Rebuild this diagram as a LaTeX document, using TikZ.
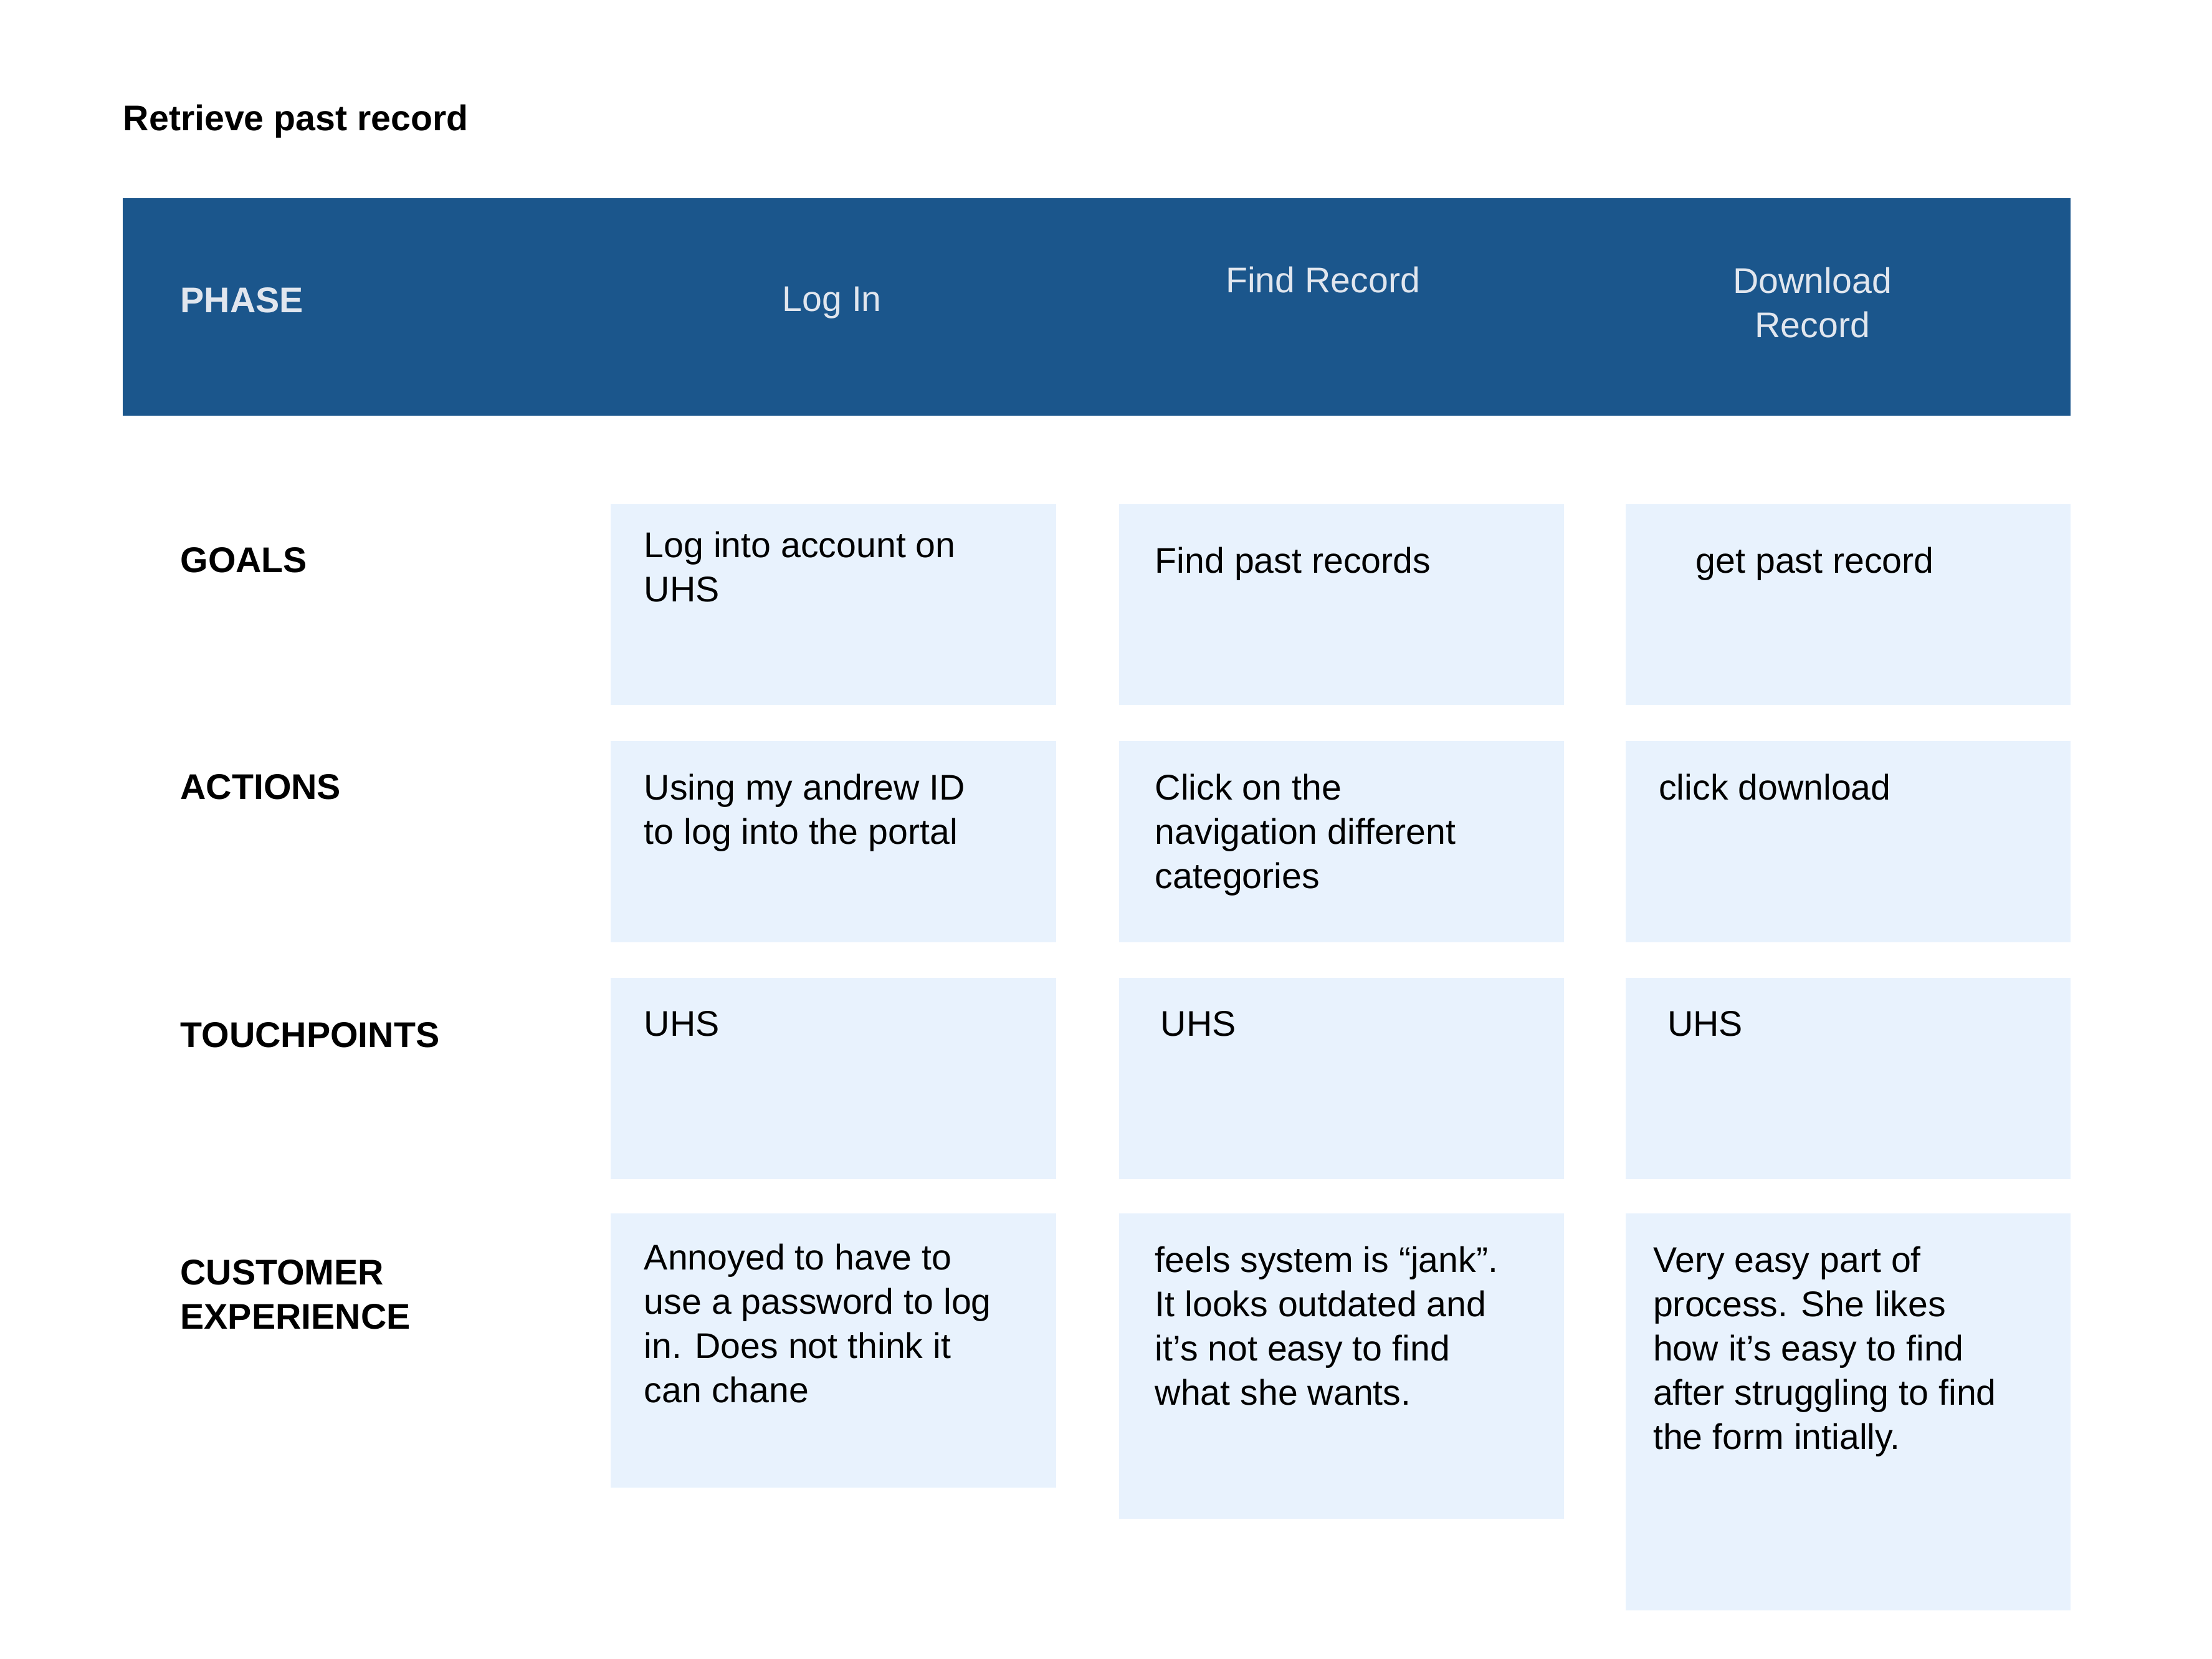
\documentclass[tikz,border=0pt]{standalone}
\usepackage{fontspec}
\setmainfont{Liberation Sans}
\definecolor{hdr}{HTML}{1B568C}
\definecolor{cell}{HTML}{E8F2FD}
\definecolor{htxt}{HTML}{E1E6EE}
\begin{document}
\begin{tikzpicture}[x=0.5pt,y=-0.5pt,
  cellbox/.style={fill=cell,draw=none},
  ctext/.style={anchor=north west,inner sep=0,align=left,font=\fontsize{12.5}{15.5}\selectfont},
  rlabel/.style={anchor=north west,inner sep=0,align=left,font=\fontsize{12.5}{15.5}\selectfont\bfseries},
  htext/.style={inner sep=0,align=center,text=htxt,font=\fontsize{12.5}{15.5}\selectfont}]
\useasboundingbox (0,0) rectangle (1550,1162);
\node[rlabel] (title) at (86,73) {Retrieve past record};
\fill[hdr] (86,139) rectangle (1451,291);
\node[rlabel,text=htxt] (phase) at (126,201) {PHASE};
\node[htext] (p1) at (583,212) {Log In};
\node[htext] (p2) at (927,196) {Find Record};
\node[htext] (p3) at (1270,212) {Download\\Record};
% cells
\foreach \xa/\xb in {428/740,784/1096,1139/1451}{
  \fill[cellbox] (\xa,353) rectangle (\xb,494);
  \fill[cellbox] (\xa,519) rectangle (\xb,660);
  \fill[cellbox] (\xa,685) rectangle (\xb,826);
}
\fill[cellbox] (428,850) rectangle (740,1042);
\fill[cellbox] (784,850) rectangle (1096,1064);
\fill[cellbox] (1139,850) rectangle (1451,1128);
% labels
\node[rlabel] (lg) at (126,383) {GOALS};
\node[rlabel] (la) at (126,542) {ACTIONS};
\node[rlabel] (lt) at (126,716) {TOUCHPOINTS};
\node[rlabel] (lc) at (126,882) {CUSTOMER\\EXPERIENCE};
% texts
\node[ctext] (g1) at (451,372) {Log into account on\\UHS};
\node[ctext] (g2) at (809,383) {Find past records};
\node[ctext] (g3) at (1188,383) {get past record};
\node[ctext] (a1) at (451,542) {Using my andrew ID\\to log into the portal};
\node[ctext] (a2) at (809,542) {Click on the\\navigation different\\categories};
\node[ctext] (a3) at (1162,542) {click download};
\node[ctext] (t1) at (451,708) {UHS};
\node[ctext] (t2) at (813,708) {UHS};
\node[ctext] (t3) at (1168,708) {UHS};
\node[ctext] (c1) at (451,871) {Annoyed to have to\\use a password to log\\in. Does not think it\\can chane};
\node[ctext] (c2) at (809,873) {feels system is “jank”.\\It looks outdated and\\it’s not easy to find\\what she wants.};
\node[ctext] (c3) at (1158,873) {Very easy part of\\process. She likes\\how it’s easy to find\\after struggling to find\\the form intially.};
\end{tikzpicture}
\end{document}
